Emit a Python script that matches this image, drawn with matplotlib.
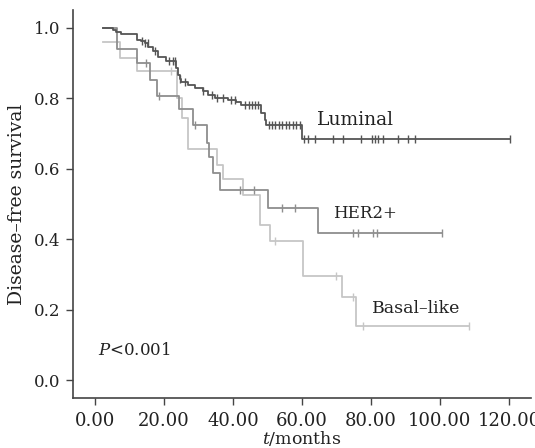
import matplotlib
matplotlib.use("Agg")
import matplotlib.pyplot as plt
import numpy as np

# Kaplan-Meier step data (months, survival after the step)
lum_start = 1.0
lum_times = [5.2, 6.2, 7.6, 12.3, 13.4, 14.4, 15.4, 16.8, 18.3, 20.7, 23.6, 24.1,
             24.5, 25.0, 27.0, 28.9, 31.3, 32.8, 34.7, 38.6, 41.0, 42.4, 48.2,
             49.2, 49.7, 59.9]
lum_surv = [0.994, 0.988, 0.983, 0.966, 0.961, 0.956, 0.945, 0.935, 0.918, 0.904,
            0.885, 0.866, 0.854, 0.847, 0.838, 0.828, 0.819, 0.810, 0.800, 0.795,
            0.790, 0.780, 0.758, 0.739, 0.724, 0.684]
lum_end = 120.3
lum_censor = [13.5, 14.5, 15.3, 17.5, 21.5, 22.5, 23.3, 24.6, 26.0, 31.3, 34.0,
              35.5, 37.0, 39.5, 40.5, 43.5, 44.5, 45.5, 46.5, 47.3, 50.3, 51.3,
              52.3, 53.3, 54.3, 55.3, 56.3, 57.3, 58.3, 59.3, 60.5, 61.7, 63.8,
              69.0, 72.0, 77.0, 80.4, 81.2, 82.0, 83.5, 87.8, 90.7, 92.8, 120.3]

her_start = 1.0
her_times = [6.3, 12.1, 15.9, 17.9, 24.2, 28.5, 32.4, 33.1, 34.1, 36.2, 50.2, 64.7]
her_surv = [0.938, 0.900, 0.852, 0.805, 0.770, 0.724, 0.672, 0.634, 0.587, 0.540,
            0.488, 0.417]
her_end = 100.6
her_censor = [14.8, 18.5, 29.0, 42.0, 46.0, 54.1, 58.0, 74.8, 76.2, 80.6, 81.7, 100.6]

bas_start = 0.958
bas_times = [7.1, 12.1, 23.7, 25.1, 27.0, 35.3, 37.2, 43.0, 47.8, 50.7, 60.2,
             71.7, 75.8]
bas_surv = [0.915, 0.876, 0.800, 0.743, 0.655, 0.611, 0.570, 0.526, 0.440, 0.395,
            0.296, 0.237, 0.155]
bas_end = 108.5
bas_censor = [22.0, 52.2, 69.8, 74.8, 77.7, 108.5]

groups = ["Luminal", "HER2+", "Basal\u2013like"]
colors = ["#555555", "#8e8e8e", "#c6c6c6"]
x_ticks = [0, 20, 40, 60, 80, 100, 120]
y_ticks = [0.0, 0.2, 0.4, 0.6, 0.8, 1.0]

plt.rcParams["font.family"] = ["DejaVu Serif"]
plt.rcParams["mathtext.fontset"] = "dejavuserif"

fig = plt.figure(figsize=(5.35, 4.48), dpi=100)
ax = fig.add_axes([0.1364, 0.1116, 0.8561, 0.8661])

series = [
    (lum_start, lum_times, lum_surv, lum_end, lum_censor),
    (her_start, her_times, her_surv, her_end, her_censor),
    (bas_start, bas_times, bas_surv, bas_end, bas_censor),
]
t0 = 2.3
for (s0, ts, ss, tend, cens), col in zip(series[::-1], colors[::-1]):
    xs = [t0] + ts + [tend]
    ys = [s0] + ss + [ss[-1]]
    ax.step(xs, ys, where="post", color=col, lw=1.3)
    # censor marks sit on the curve
    cy = [([s0] + ss)[np.searchsorted(ts, c, side="right")] for c in cens]
    ax.plot(cens, cy, ls="none", marker="|", ms=6, mew=1.0, color=col)

ax.set_xlim(-6.4, 126.4)
ax.set_ylim(-0.05, 1.05)
ax.set_xticks(x_ticks)
ax.set_xticklabels([f"{v:.2f}" for v in x_ticks])
ax.set_yticks(y_ticks)
ax.set_yticklabels([f"{v:.1f}" for v in y_ticks])
ax.tick_params(direction="out", length=5, width=1.0, color="#444444",
               labelsize=12, labelcolor="#222222")
ax.tick_params(axis="x", pad=5, labelsize=13)
ax.tick_params(axis="y", pad=4)
for side in ["top", "right"]:
    ax.spines[side].set_visible(False)
for side in ["left", "bottom"]:
    ax.spines[side].set_color("#444444")
    ax.spines[side].set_linewidth(1.2)

ax.set_xlabel("$t$/months", fontsize=12.5, color="#222222", labelpad=-1)
ax.set_ylabel("Disease\u2013free survival", fontsize=13.5, color="#222222", labelpad=6)

label_x = [64.3, 69.0, 80.3]
label_y = [0.739, 0.474, 0.205]
label_size = [13.5, 12, 12.5]
for name, lx, ly, fs in zip(groups, label_x, label_y, label_size):
    ax.text(lx, ly, name, fontsize=fs, va="center", ha="left", color="#222222")
ax.text(0.9, 0.085, "$P$<0.001", fontsize=12, va="center", ha="left", color="#222222")

fig.savefig("out.png", dpi=100)
